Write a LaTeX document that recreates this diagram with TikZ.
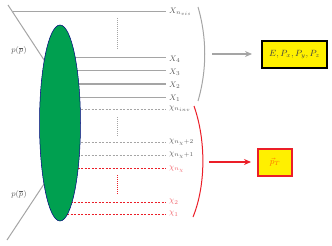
\documentclass[tikz,border=0pt]{standalone}
\usetikzlibrary{shapes.geometric,arrows.meta}
\definecolor{lgray}{RGB}{165,165,165}
\definecolor{tgray}{RGB}{90,90,90}
\definecolor{myred}{RGB}{235,30,40}
\definecolor{myyellow}{RGB}{255,240,0}
\definecolor{mygreen}{RGB}{0,160,80}
\tikzset{
  solidline/.style={draw=lgray, line width=1pt},
  graydash/.style={draw=lgray, line width=1pt, dash pattern=on 2pt off 1.5pt},
  reddash/.style={draw=myred, line width=1pt, dash pattern=on 2pt off 1.5pt},
  vdots/.style={line width=0.8pt, dash pattern=on 1pt off 1pt},
  lab/.style={anchor=west, inner sep=0pt, font=\fontsize{8}{9}\selectfont},
}
\begin{document}
\begin{tikzpicture}[x=1pt,y=-1pt]
\useasboundingbox (0,0) rectangle (332,246);
% incoming beams
\coordinate (b1s) at (8,5);
\coordinate (b1e) at (48,66);
\coordinate (b2s) at (7,240);
\coordinate (b2e) at (48,178);
\draw[solidline] (b1s) -- (b1e);
\draw[solidline] (b2s) -- (b2e);
\node[inner sep=0pt, font=\fontsize{8}{9}\selectfont, text=tgray] (pp1) at (19,51) {$p(\overline{p})$};
\node[inner sep=0pt, font=\fontsize{8}{9}\selectfont, text=tgray] (pp2) at (19,194) {$p(\overline{p})$};
% top line
\coordinate (t0s) at (13,12);
\coordinate (t0e) at (166,12);
\draw[solidline] (t0s) -- (t0e);
% lines
\foreach \n/\y in {a/58,b/71,c/84,d/97}{
  \coordinate (\n s) at (60,\y);
  \coordinate (\n e) at (166,\y);
  \draw[solidline] (\n s) -- (\n e);
}
\foreach \n/\y in {e/109,f/142,g/155}{
  \coordinate (\n s) at (60,\y);
  \coordinate (\n e) at (166,\y);
  \draw[graydash] (\n s) -- (\n e);
}
\foreach \n/\y in {h/168,i/202,j/214}{
  \coordinate (\n s) at (60,\y);
  \coordinate (\n e) at (166,\y);
  \draw[reddash] (\n s) -- (\n e);
}
% vertical dots
\coordinate (v1a) at (117,18); \coordinate (v1b) at (117,50);
\coordinate (v2a) at (117,117); \coordinate (v2b) at (117,136);
\coordinate (v3a) at (117,175); \coordinate (v3b) at (117,194);
\draw[vdots, lgray] (v1a) -- (v1b);
\draw[vdots, lgray] (v2a) -- (v2b);
\draw[vdots, myred] (v3a) -- (v3b);
% blob
\node[ellipse, draw=blue!50!black, line width=0.5pt, fill=mygreen, minimum width=41pt, minimum height=196pt, inner sep=0pt] (blob) at (60,123) {};
% labels
\node[lab, text=tgray] (L0) at (169,12) {$X_{n_{vis}}$};
\node[lab, text=tgray] (L4) at (169,59) {$X_4$};
\node[lab, text=tgray] (L3) at (169,72) {$X_3$};
\node[lab, text=tgray] (L2) at (169,85) {$X_2$};
\node[lab, text=tgray] (L1) at (169,98) {$X_1$};
\node[lab, text=tgray] (Li) at (169,109) {$\chi_{n_{inv}}$};
\node[lab, text=tgray] (Lf) at (169,142) {$\chi_{n_\chi+2}$};
\node[lab, text=tgray] (Lg) at (169,155) {$\chi_{n_\chi+1}$};
\node[lab, text=myred!70] (Lh) at (169,169) {$\chi_{n_\chi}$};
\node[lab, text=myred!70] (Li2) at (169,202) {$\chi_{2}$};
\node[lab, text=myred!70] (Lj) at (169,214) {$\chi_{1}$};
% braces
\coordinate (g1) at (198,7); \coordinate (g2) at (198,101);
\draw[lgray, line width=1pt] (g1) .. controls (207,38) and (207,70) .. (g2);
\coordinate (r1) at (194,106); \coordinate (r2) at (193,217);
\draw[myred, line width=1pt] (r1) .. controls (206,140) and (206,185) .. (r2);
% boxes
\node[draw=black, line width=1.2pt, fill=myyellow, minimum width=65pt, minimum height=27pt, inner sep=0pt, font=\fontsize{9}{10}\selectfont, text=black!75] (vis) at (294.5,54.5) {$E, P_x, P_y, P_z$};
\node[draw=myred, line width=1.5pt, fill=myyellow, minimum width=34pt, minimum height=27pt, inner sep=0pt, font=\fontsize{9}{10}\selectfont, text=orange!90!red] (inv) at (275,162.5) {$\vec{p}_T$};
% arrows
\coordinate (a1s) at (212,54);
\coordinate (a1e) at (252,54);
\coordinate (a2s) at (209,162);
\coordinate (a2e) at (251,162);
\draw[lgray, line width=1.2pt, -{Stealth[length=7pt,width=6pt]}] (a1s) -- (a1e);
\draw[myred, line width=1.2pt, -{Stealth[length=7pt,width=6pt]}] (a2s) -- (a2e);
\end{tikzpicture}
\end{document}
